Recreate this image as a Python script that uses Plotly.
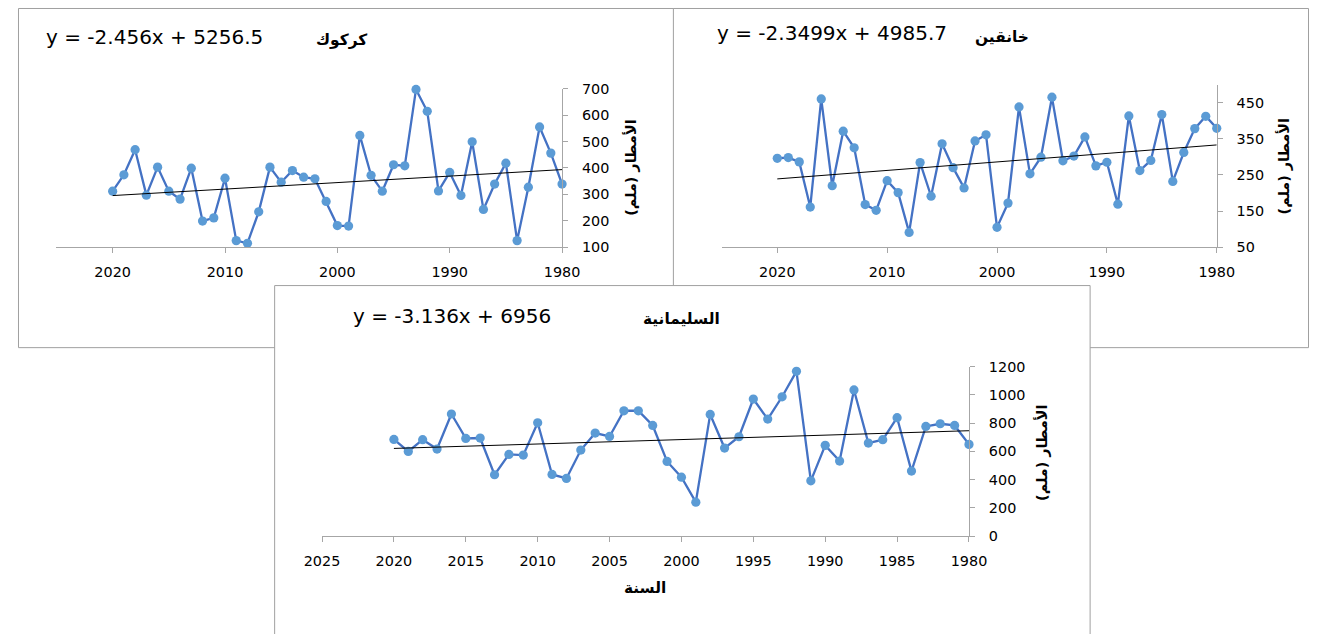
import numpy as np
import plotly.graph_objects as go

# ---------------- data ----------------
years = list(range(2020, 1979, -1))

kirkuk = [312, 374, 469, 297, 403, 312, 282, 399, 199, 211,
          361, 125, 115, 234, 403, 346, 390, 365, 359, 273,
          182, 180, 523, 372, 312, 412, 408, 697, 614, 313,
          383, 296, 499, 243, 339, 418, 125, 327, 555, 456, 339]

khanaqin = [296, 298, 286, 161, 460, 220, 371, 325, 168, 152,
            234, 201, 91, 284, 191, 336, 270, 214, 344, 361,
            105, 172, 438, 253, 299, 465, 289, 302, 355, 275,
            285, 169, 413, 262, 290, 417, 232, 312, 378, 412, 379]

sulaymaniyah = [685, 600, 683, 617, 865, 692, 695, 435, 579, 574,
                803, 437, 409, 610, 730, 706, 888, 888, 784, 529,
                418, 241, 862, 624, 704, 971, 829, 987, 1167, 392,
                643, 532, 1035, 659, 683, 839, 461, 777, 796, 784, 650]

# trend lines (slope, intercept) as printed on the chart
trend_slope = [-2.456, -2.3499, -3.136]
trend_intercept = [5256.5, 4985.7, 6956.0]
trend_labels = ["y = -2.456x + 5256.5", "y = -2.3499x + 4985.7", "y = -3.136x + 6956"]

station_names = ["كركوك", "خانقين", "السليمانية"]
y_title = "الأمطار (ملم)\u200f"
x_title = "السنة"

x_ticks_10 = [2020, 2010, 2000, 1990, 1980]
x_ticks_5 = [2025, 2020, 2015, 2010, 2005, 2000, 1995, 1990, 1985, 1980]
y_ticks = [[100, 200, 300, 400, 500, 600, 700],
           [50, 150, 250, 350, 450],
           [0, 200, 400, 600, 800, 1000, 1200]]
y_ranges = [[100, 700], [50, 500], [0, 1200]]

# ---------------- layout helpers ----------------
# Observed page -> picture mapping: picture = A + S * (figure + 8)
W, H = 1327, 634
S = 0.9735
AX, AY = 9.4, 0.0
BODY = 8


def fx(X):
    return (X - AX) / S - BODY


def fy(Y):
    return (Y - AY) / S - BODY


def px(X):
    return fx(X) / W


def py(Y):
    return 1 - fy(Y) / H


def clamp_x(v):
    return min(max(v, 0.5), W - 0.5)


def clamp_y(v):
    return min(max(v, 0.5), H + 40)


def fs(v):
    return v / S


LINE_C = "#4472C4"
MARK_C = "#5B9BD5"
AXIS_C = "#A6A6A6"
BOX_C = "#A0A0A0"
TXT_C = "#000000"
TICK_FONT = dict(family="DejaVu Sans, sans-serif", size=fs(14), color=TXT_C)
EQ_FONT = dict(family="DejaVu Sans, sans-serif", size=fs(19.5), color=TXT_C)
AR_FONT = dict(family="DejaVu Sans, Noto Sans, sans-serif", size=fs(15), color=TXT_C)
AR_FONT_S = dict(family="DejaVu Sans, Noto Sans, sans-serif", size=fs(14), color=TXT_C)

series = [kirkuk, khanaqin, sulaymaniyah]
# plot areas in picture pixels: (x_left, x_right, y_top, y_bottom)
areas = [(55.7, 561.6, 88.3, 246.7),
         (722.0, 1216.7, 84.2, 246.7),
         (321.4, 968.8, 366.0, 535.3)]

fig = go.Figure()

# panel frames (drawn in order so later panels cover earlier ones)
boxes = [(7, 8, 690, 347), (673, 4, 1326, 347), (274, 285, 1090, 660)]
shapes = []
for (x0, y0, x1, y1) in boxes:
    X0, X1 = clamp_x(fx(x0)), clamp_x(fx(x1))
    Y0, Y1 = clamp_y(fy(y0)), clamp_y(fy(y1))
    shapes.append(dict(type="rect", xref="paper", yref="paper", layer="below",
                       x0=X0 / W, x1=X1 / W, y0=1 - Y1 / H, y1=1 - Y0 / H,
                       line=dict(color=BOX_C, width=1), fillcolor="white"))

layout_axes = {}
for i, vals in enumerate(series):
    xa = "x" if i == 0 else f"x{i+1}"
    ya = "y" if i == 0 else f"y{i+1}"
    fig.add_trace(go.Scatter(x=years, y=vals, mode="lines+markers",
                             line=dict(color=LINE_C, width=fs(2.25)),
                             marker=dict(color=MARK_C, size=fs(9)),
                             xaxis=xa, yaxis=ya, showlegend=False,
                             hoverinfo="skip", cliponaxis=False))
    yrs = np.array([years[0], years[-1]], dtype=float)
    fig.add_trace(go.Scatter(x=yrs, y=trend_slope[i] * yrs + trend_intercept[i],
                             mode="lines", line=dict(color="black", width=1),
                             xaxis=xa, yaxis=ya, showlegend=False,
                             hoverinfo="skip", cliponaxis=False))
    xl, xr, yt, yb = areas[i]
    xkey = "xaxis" if i == 0 else f"xaxis{i+1}"
    ykey = "yaxis" if i == 0 else f"yaxis{i+1}"
    xt = x_ticks_5 if i == 2 else x_ticks_10
    layout_axes[xkey] = dict(domain=[px(xl), px(xr)], range=[2025, 1980],
                             anchor=ya, showgrid=False, zeroline=False,
                             showline=True, linecolor=AXIS_C, linewidth=1,
                             ticks="outside", ticklen=5, tickcolor=AXIS_C,
                             tickvals=xt, ticktext=[str(v) for v in xt],
                             tickfont=TICK_FONT, ticklabelstandoff=7,
                             fixedrange=True)
    layout_axes[ykey] = dict(domain=[py(yb), py(yt)], range=y_ranges[i],
                             anchor=xa, side="right", showgrid=False,
                             zeroline=False, showline=True, linecolor=AXIS_C,
                             linewidth=1, ticks="outside", ticklen=5,
                             tickcolor=AXIS_C, tickvals=y_ticks[i],
                             ticktext=[str(v) for v in y_ticks[i]],
                             tickfont=TICK_FONT, ticklabelstandoff=11,
                             fixedrange=True)

annotations = []
eq_pos = [(154, 37), (832, 33), (451, 315)]
name_pos = [(341, 40), (1002, 37), (681, 318)]
ytitle_pos = [(631, 167), (1284, 166), (1042, 452)]
for i in range(3):
    annotations.append(dict(xref="paper", yref="paper", x=px(eq_pos[i][0]), y=py(eq_pos[i][1]),
                            text=trend_labels[i], showarrow=False, font=EQ_FONT,
                            xanchor="center", yanchor="middle"))
    annotations.append(dict(xref="paper", yref="paper", x=px(name_pos[i][0]), y=py(name_pos[i][1]),
                            text=f"<b>{station_names[i]}</b>", showarrow=False, font=AR_FONT,
                            xanchor="center", yanchor="middle"))
    annotations.append(dict(xref="paper", yref="paper", x=px(ytitle_pos[i][0]), y=py(ytitle_pos[i][1]),
                            text=f"<b>{y_title}</b>", showarrow=False, font=AR_FONT_S,
                            textangle=-90, xanchor="center", yanchor="middle"))
annotations.append(dict(xref="paper", yref="paper", x=px(645), y=py(587),
                        text=f"<b>{x_title}</b>", showarrow=False, font=AR_FONT,
                        xanchor="center", yanchor="middle"))

fig.update_layout(width=W, height=H, margin=dict(l=0, r=0, t=0, b=0),
                  paper_bgcolor="white", plot_bgcolor="rgba(0,0,0,0)",
                  shapes=shapes, annotations=annotations, hovermode=False,
                  **layout_axes)

fig.write_html("out.html", config=dict(displayModeBar=False, staticPlot=True))
